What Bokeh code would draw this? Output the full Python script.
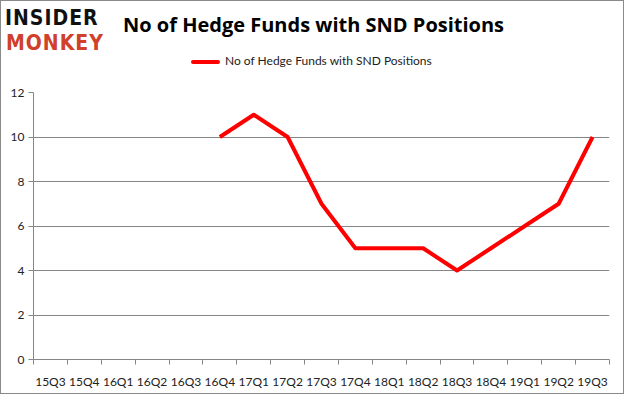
from bokeh.plotting import figure
from bokeh.layouts import column
from bokeh.models import ColumnDataSource, FixedTicker, Range1d, Div
from bokeh.embed import file_html
from bokeh.resources import INLINE

quarters = ["15Q3", "15Q4", "16Q1", "16Q2", "16Q3", "16Q4", "17Q1", "17Q2", "17Q3",
            "17Q4", "18Q1", "18Q2", "18Q3", "18Q4", "19Q1", "19Q2", "19Q3"]
funds = [None, None, None, None, None, 10, 11, 10, 7, 5, 5, 5, 4, 5, 6, 7, 10]
y_ticks = [0, 2, 4, 6, 8, 10, 12]
series_name = "No of Hedge Funds with SND Positions"
title_text = "No of Hedge Funds with SND Positions"

xs = [i + 0.5 for i in range(len(quarters))]
ys = [float("nan") if v is None else v for v in funds]
src = ColumnDataSource(data=dict(x=xs, y=ys))

W = 625
HEAD_H = 84
CHART_H = 395 - HEAD_H
FONT = "Lato"
GRAY = "#868686"
BORDER = "#8a8a8a"


def span(text, left, top, family, size, color, weight="normal", lh=None, ls=0):
    lh = size if lh is None else lh
    return ('<div style="position:absolute;left:%gpx;top:%gpx;font-family:\'%s\';'
            'font-size:%gpx;line-height:%gpx;color:%s;font-weight:%s;white-space:nowrap;'
            'letter-spacing:%gpx;margin:0;padding:0;">%s</div>'
            % (left, top, family, size, lh, color, weight, ls, text))


html = ('<div style="position:relative;width:%dpx;height:%dpx;margin:0;padding:0;'
        'box-sizing:border-box;border-top:1px solid %s;border-left:1px solid %s;'
        'border-right:1px solid %s;background:white;">' % (W - 1, HEAD_H, BORDER, BORDER, BORDER))
html += span("INSIDER", 4, 8.2, "DejaVu Sans Condensed", 21, "#111111", "bold", 19, 1)
html += span("MONKEY", 5, 33.2, "DejaVu Sans Condensed", 21, "#d0402a", "bold", 19, 1)
html += span(title_text, 122, 14.2, "Open Sans", 20, "#000000", "bold")
html += ('<div style="position:absolute;left:190px;top:58.5px;width:29px;height:4px;'
         'background:#ff0000;border-radius:2px;"></div>')
html += span(series_name, 224, 53.7, FONT, 12, "#222222")
html += '</div>'

header = Div(text=html, width=W, height=HEAD_H, styles={"margin": "0", "padding": "0"})

# ---------- chart ----------
FL, FR = 33, 609
p = figure(width=W, height=CHART_H, output_backend="svg", toolbar_location=None,
           x_range=Range1d(0, len(quarters)), y_range=Range1d(0, 12))
p.min_border_left = FL
p.min_border_right = W - FR
p.min_border_top = 92 - HEAD_H
p.min_border_bottom = 395 - 359
p.outline_line_color = None
p.background_fill_color = "white"
p.border_fill_color = "white"

p.line("x", "y", source=src, line_color="#ff0000", line_width=4, line_join="round")

p.xgrid.grid_line_color = None
p.ygrid.grid_line_color = GRAY
p.ygrid.grid_line_width = 1
p.yaxis.ticker = FixedTicker(ticks=y_ticks)
p.yaxis.axis_line_color = GRAY
p.yaxis.major_tick_line_color = GRAY
p.yaxis.major_tick_out = 5
p.yaxis.major_tick_in = 0
p.yaxis.minor_tick_line_color = None
p.yaxis.major_label_text_font = FONT
p.yaxis.major_label_text_font_size = "12px"
p.yaxis.major_label_text_color = "#222222"
p.yaxis.major_label_standoff = 4

p.xaxis.ticker = FixedTicker(ticks=xs, minor_ticks=list(range(len(quarters) + 1)))
p.xaxis.major_label_overrides = {x: q for x, q in zip(xs, quarters)}
p.xaxis.axis_line_color = GRAY
p.xaxis.major_tick_line_color = None
p.xaxis.major_tick_out = 0
p.xaxis.major_tick_in = 0
p.xaxis.minor_tick_line_color = GRAY
p.xaxis.minor_tick_out = 5
p.xaxis.minor_tick_in = 0
p.xaxis.major_label_text_font = FONT
p.xaxis.major_label_text_font_size = "12px"
p.xaxis.major_label_text_color = "#222222"
p.xaxis.major_label_standoff = 9

p.stylesheets = [":host::after { content: ''; position: absolute; left: 0; top: 0; right: 1px; "
                 "bottom: 1px; border-left: 1px solid %s; border-right: 1px solid %s; "
                 "border-bottom: 1px solid %s; pointer-events: none; z-index: 10; }"
                 % (BORDER, BORDER, BORDER)]

layout = column(header, p, spacing=0)

open("out.html", "w").write(file_html(layout, INLINE))
